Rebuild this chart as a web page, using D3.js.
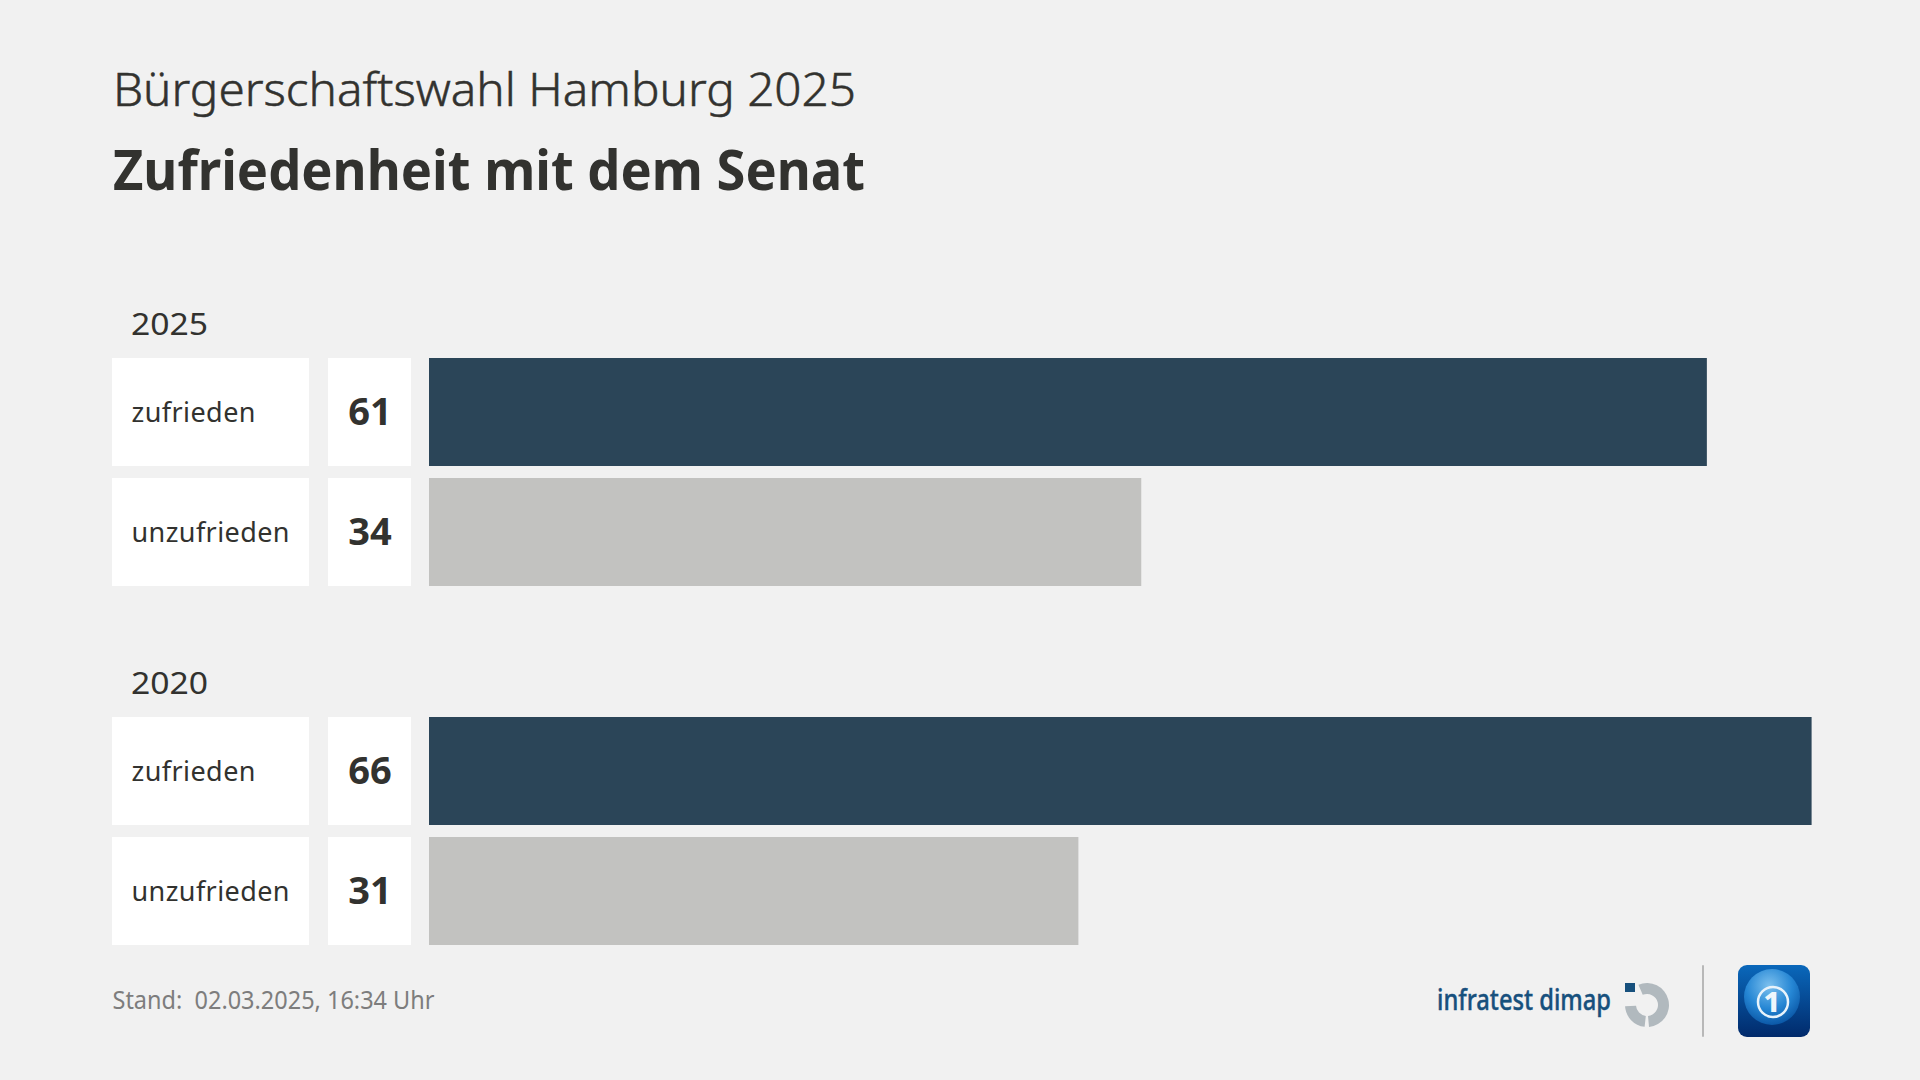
<!DOCTYPE html>
<html>
<head>
<meta charset="utf-8">
<script src="https://cdn.jsdelivr.net/npm/d3@7"></script>
<style>
  html, body { margin: 0; padding: 0; background: #f1f1f1; }
  svg { display: block; }
  text { font-family: "Noto Sans", sans-serif; fill: #32322f; }
</style>
</head>
<body>
<div id="chart"></div>
<script>
const subtitle = 'Bürgerschaftswahl Hamburg 2025';
const title = 'Zufriedenheit mit dem Senat';
const years = ['2025', '2020'];
const categories = ['zufrieden', 'unzufrieden'];
const values2025 = [61, 34];
const values2020 = [66, 31];
const barColors = ['#2b4558', '#c2c2c0'];
const footer = 'Stand:\u00a0 02.03.2025, 16:34 Uhr';

const width = 1920, height = 1080;
const svg = d3.select('#chart').append('svg')
  .attr('width', width)
  .attr('height', height);

svg.append('rect').attr('width', width).attr('height', height).attr('fill', '#f1f1f1');

// source font is narrower than anything installed, so text is fitted to its measured width
function fitText(sel, w) {
  return sel.attr('textLength', w).attr('lengthAdjust', 'spacingAndGlyphs');
}

svg.append('text').attr('x', 113).attr('y', 106)
  .style('font-size', '46px').style('font-weight', 300)
  .style('stroke', '#32322f').style('stroke-width', 0.5)
  .text(subtitle).call(fitText, 743);
svg.append('text').attr('x', 113).attr('y', 190)
  .style('font-size', '55px').style('font-weight', 700)
  .text(title).call(fitText, 752);

const x = d3.scaleLinear().domain([0, 66]).range([429, 1811.6]);
const groupY = d3.scalePoint().domain(years).range([358, 717]);
const rowY = d3.scaleBand().domain(categories).range([0, 228]).paddingInner(0.1);
const rows = { '2025': values2025, '2020': values2020 };

const groups = svg.selectAll('g.group').data(years).join('g')
  .attr('class', 'group')
  .attr('transform', d => `translate(0,${groupY(d)})`);

groups.append('text').attr('x', 131).attr('y', -23)
  .style('font-size', '31px')
  .text(d => d).call(fitText, 77);

const row = groups.selectAll('g.row')
  .data(year => categories.map((c, i) => ({ category: c, value: rows[year][i], color: barColors[i] })))
  .join('g')
  .attr('class', 'row')
  .attr('transform', d => `translate(0,${rowY(d.category)})`);

row.append('rect').attr('x', 112).attr('width', 197).attr('height', 108).attr('fill', '#fff');
row.append('rect').attr('x', 328).attr('width', 83).attr('height', 108).attr('fill', '#fff');
row.append('rect')
  .attr('x', x(0))
  .attr('width', d => x(d.value) - x(0))
  .attr('height', 108)
  .attr('fill', d => d.color);

row.append('text').attr('x', 131.5).attr('y', 64)
  .style('font-size', '27px')
  .attr('lengthAdjust', 'spacing')
  .attr('textLength', d => d.category === 'zufrieden' ? 124 : 158)
  .text(d => d.category);

row.append('text').attr('x', 370).attr('y', 67)
  .attr('text-anchor', 'middle')
  .style('font-size', '38px').style('font-weight', 700)
  .text(d => d.value);

svg.append('text').attr('x', 112.5).attr('y', 1009)
  .style('font-size', '25px').style('fill', '#7d7d7d')
  .text(footer).call(fitText, 322);

// infratest dimap logo
svg.append('text').attr('x', 1437).attr('y', 1010)
  .style('font-size', '29px').style('font-weight', 500).style('fill', '#17507d')
  .style('stroke', '#17507d').style('stroke-width', 0.4)
  .text('infratest dimap').call(fitText, 174);
svg.append('rect').attr('x', 1625).attr('y', 983).attr('width', 10).attr('height', 9).attr('fill', '#17507d');
const ringArc = d3.arc().innerRadius(11).outerRadius(22);
const ring = svg.append('g').attr('transform', 'translate(1647,1005)').attr('fill', '#b1b9be');
ring.append('path').attr('d', ringArc({ startAngle: -0.4, endAngle: 3.05 }));
ring.append('path').attr('d', ringArc({ startAngle: 3.25, endAngle: 4.65 }));

svg.append('rect').attr('x', 1702).attr('y', 965).attr('width', 2).attr('height', 72).attr('rx', 1).attr('fill', '#b8b8b8');

// tagesschau logo
const defs = svg.append('defs');
const bg = defs.append('linearGradient').attr('id', 'appBg').attr('x1', 0).attr('y1', 0).attr('x2', 0).attr('y2', 1);
bg.append('stop').attr('offset', 0).attr('stop-color', '#0a68bb');
bg.append('stop').attr('offset', 1).attr('stop-color', '#012a6b');
const globe = defs.append('radialGradient').attr('id', 'appGlobe').attr('cx', 0.45).attr('cy', 0.3).attr('r', 0.75);
globe.append('stop').attr('offset', 0).attr('stop-color', '#7cc0ee');
globe.append('stop').attr('offset', 0.55).attr('stop-color', '#2586d4');
globe.append('stop').attr('offset', 1).attr('stop-color', '#07509f');
svg.append('rect').attr('x', 1738).attr('y', 965).attr('width', 72).attr('height', 72).attr('rx', 9)
  .attr('fill', 'url(#appBg)');
svg.append('circle').attr('cx', 1772).attr('cy', 997).attr('r', 28).attr('fill', 'url(#appGlobe)');
svg.append('circle').attr('cx', 1773).attr('cy', 1002).attr('r', 15)
  .attr('fill', 'none').attr('stroke', '#e8f3fb').attr('stroke-width', 2.5);
svg.append('text').attr('x', 1772).attr('y', 1012).attr('text-anchor', 'middle')
  .style('font-size', '29px').style('font-weight', 800).style('fill', '#eef6fc')
  .text('1');
</script>
</body>
</html>
